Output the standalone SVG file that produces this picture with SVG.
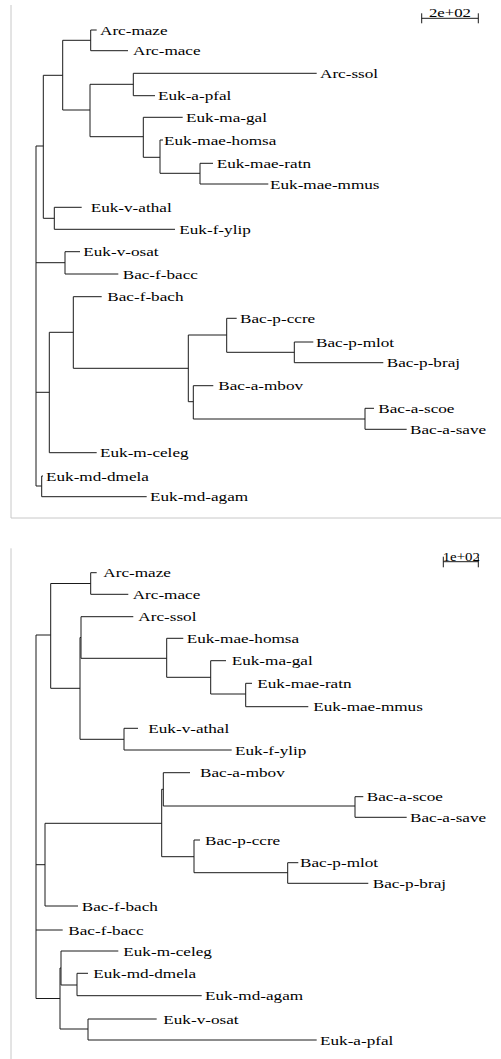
<svg xmlns="http://www.w3.org/2000/svg" width="501" height="1059" viewBox="0 0 501 1059">
<style>
.lbl{font-family:"Liberation Serif","Times New Roman",serif;font-size:13.3px;fill:#000}
.br{fill:none;stroke:#1a1a1a;stroke-width:1}
.frame{fill:none;stroke:#c8c8c8;stroke-width:1}
</style>
<rect width="501" height="1059" fill="#fff"/>
<g id="frames">
<path class="frame" d="M11,5 V518 H501"/>
<path class="frame" d="M11,548.3 V1059"/>
</g>
<g id="connectors">
<path class="br" d="M90.7,30 V50.7 M90.7,30 H96.7 M90.7,50.7 H128 M62.7,40.3 H90.7 M62.7,40.3 V110 M62.7,110 H90 M90,84.3 V136.7 M90,84.3 H133.3 M133.3,73.3 V95.7 M133.3,73.3 H316.7 M133.3,95.7 H155 M90,136.7 H143.3 M143.3,117.3 V157.3 M143.3,117.3 H182.7 M143.3,157.3 H160 M160,140 V173.3 M160,140 H163 M160,173.3 H200 M200,163.3 V184 M200,163.3 H213 M200,184 H268.3 M43.3,75.3 H62.7 M43.3,75.3 V218.3 M43.3,218.3 H54.3 M54.3,207.3 V229.3 M54.3,207.3 H81.7 M54.3,229.3 H175 M36,146 H43.3 M36,262.7 H65 M65,251.7 V274 M65,251.7 H80 M65,274 H118.3 M73.3,296.7 V368.3 M73.3,296.7 H101.7 M49.3,332.3 H73.3 M73.3,368.3 H188.3 M188.3,335 V401.7 M188.3,335 H226.7 M226.7,318.3 V352.3 M226.7,318.3 H236.7 M226.7,352.3 H294.3 M294.3,342 V362.7 M294.3,342 H313.3 M294.3,362.7 H383.3 M188.3,401.7 H193.3 M193.3,385.7 V419 M193.3,385.7 H213.3 M193.3,419 H365 M365,408.3 V429.3 M365,408.3 H374 M365,429.3 H406.7 M49.3,332.3 V452.7 M36,392.3 H49.3 M49.3,452.7 H96.7 M36,146 V486 M36,486 H41.7 M41.7,476 V496.7 M41.7,476 H43 M41.7,496.7 H146.7"/>
<path class="br" d="M90.7,572.7 H96.7 M90.7,572.7 V594.3 M90.7,594.3 H128.3 M50.7,583.5 H90.7 M50.7,583.5 V688.3 M50.7,688.3 H80 M80,637.5 V739.3 M80,637.5 H81 M81,616.7 V658.3 M81,616.7 H133.3 M81,658.3 H166.7 M166.7,638.3 V677.3 M166.7,638.3 H183.3 M166.7,677.3 H210.7 M210.7,660.7 V694 M210.7,660.7 H226 M210.7,694 H245.7 M245.7,683.3 V706.7 M245.7,683.3 H252 M245.7,706.7 H308.3 M80,739.3 H124 M124,728.3 V750 M124,728.3 H138 M124,750 H231.7 M36,635 H50.7 M45,823.3 H161.7 M161.7,789.3 V856.7 M161.7,789.3 H163.3 M163.3,772.7 V806 M163.3,772.7 H190 M163.3,806 H355 M355,796.7 V817.3 M355,796.7 H363.3 M355,817.3 H406.7 M161.7,856.7 H194 M194,840 V872.7 M194,840 H200 M194,872.7 H287.7 M287.7,862.7 V883.3 M287.7,862.7 H298.3 M287.7,883.3 H368.3 M45,823.3 V906 M36,864.7 H45 M45,906 H78 M36,930 H62.7 M36,998.5 H60 M60,968 V1029 M60,968 H61 M61,951 V985 M61,951 H118.3 M61,985 H77 M77,973.3 V995.7 M77,973.3 H88 M77,995.7 H201.7 M60,1029 H88 M88,1019 V1040 M88,1019 H156.7 M88,1040 H316.7 M36,635 V998.5"/>
</g>
<g id="scale-top">
<path class="br" d="M421.7,18.3 H478.3 M421.7,13.3 V23.3 M478.3,13.3 V23.3"/>
<text class="lbl" text-anchor="middle" transform="translate(450,16.5) scale(1.26,1)">2e+02</text>
</g>
<g id="scale-bottom">
<path class="br" d="M443.3,561.7 H478.3 M443.3,556.7 V567.3 M478.3,556.7 V567.3"/>
<text class="lbl" text-anchor="middle" transform="translate(461.3,560.7) scale(1.12,1)">1e+02</text>
</g>
<g id="tree-top">
<g id="t-arc-maze"><text class="lbl" transform="translate(100,34.5) scale(1.29,1)">Arc-maze</text></g>
<g id="t-arc-mace"><text class="lbl" transform="translate(133,55.2) scale(1.29,1)">Arc-mace</text></g>
<g id="t-arc-ssol"><text class="lbl" transform="translate(320,77.8) scale(1.29,1)">Arc-ssol</text></g>
<g id="t-euk-a-pfal"><text class="lbl" transform="translate(158,100.2) scale(1.29,1)">Euk-a-pfal</text></g>
<g id="t-euk-ma-gal"><text class="lbl" transform="translate(186,121.8) scale(1.29,1)">Euk-ma-gal</text></g>
<g id="t-euk-mae-homsa"><text class="lbl" transform="translate(164,144.5) scale(1.29,1)">Euk-mae-homsa</text></g>
<g id="t-euk-mae-ratn"><text class="lbl" transform="translate(216.7,167.8) scale(1.29,1)">Euk-mae-ratn</text></g>
<g id="t-euk-mae-mmus"><text class="lbl" transform="translate(270,188.5) scale(1.29,1)">Euk-mae-mmus</text></g>
<g id="t-euk-v-athal"><text class="lbl" transform="translate(90.7,211.8) scale(1.29,1)">Euk-v-athal</text></g>
<g id="t-euk-f-ylip"><text class="lbl" transform="translate(179.3,233.8) scale(1.29,1)">Euk-f-ylip</text></g>
<g id="t-euk-v-osat"><text class="lbl" transform="translate(83.3,256.2) scale(1.29,1)">Euk-v-osat</text></g>
<g id="t-bac-f-bacc"><text class="lbl" transform="translate(122.7,278.5) scale(1.29,1)">Bac-f-bacc</text></g>
<g id="t-bac-f-bach"><text class="lbl" transform="translate(107.3,301.2) scale(1.29,1)">Bac-f-bach</text></g>
<g id="t-bac-p-ccre"><text class="lbl" transform="translate(240,322.8) scale(1.29,1)">Bac-p-ccre</text></g>
<g id="t-bac-p-mlot"><text class="lbl" transform="translate(316,346.5) scale(1.29,1)">Bac-p-mlot</text></g>
<g id="t-bac-p-braj"><text class="lbl" transform="translate(386.7,367.2) scale(1.29,1)">Bac-p-braj</text></g>
<g id="t-bac-a-mbov"><text class="lbl" transform="translate(218.3,390.2) scale(1.29,1)">Bac-a-mbov</text></g>
<g id="t-bac-a-scoe"><text class="lbl" transform="translate(378.3,412.8) scale(1.29,1)">Bac-a-scoe</text></g>
<g id="t-bac-a-save"><text class="lbl" transform="translate(410,433.8) scale(1.29,1)">Bac-a-save</text></g>
<g id="t-euk-m-celeg"><text class="lbl" transform="translate(100,457.2) scale(1.29,1)">Euk-m-celeg</text></g>
<g id="t-euk-md-dmela"><text class="lbl" transform="translate(46,480.5) scale(1.29,1)">Euk-md-dmela</text></g>
<g id="t-euk-md-agam"><text class="lbl" transform="translate(150,501.2) scale(1.29,1)">Euk-md-agam</text></g>
</g>
<g id="tree-bottom">
<g id="b-arc-maze"><text class="lbl" transform="translate(103.3,577.2) scale(1.29,1)">Arc-maze</text></g>
<g id="b-arc-mace"><text class="lbl" transform="translate(132.7,598.8) scale(1.29,1)">Arc-mace</text></g>
<g id="b-arc-ssol"><text class="lbl" transform="translate(138.3,621.2) scale(1.29,1)">Arc-ssol</text></g>
<g id="b-euk-mae-homsa"><text class="lbl" transform="translate(186.7,642.8) scale(1.29,1)">Euk-mae-homsa</text></g>
<g id="b-euk-ma-gal"><text class="lbl" transform="translate(231.7,665.2) scale(1.29,1)">Euk-ma-gal</text></g>
<g id="b-euk-mae-ratn"><text class="lbl" transform="translate(257.3,687.8) scale(1.29,1)">Euk-mae-ratn</text></g>
<g id="b-euk-mae-mmus"><text class="lbl" transform="translate(313.3,711.2) scale(1.29,1)">Euk-mae-mmus</text></g>
<g id="b-euk-v-athal"><text class="lbl" transform="translate(148.3,732.8) scale(1.29,1)">Euk-v-athal</text></g>
<g id="b-euk-f-ylip"><text class="lbl" transform="translate(235,754.5) scale(1.29,1)">Euk-f-ylip</text></g>
<g id="b-bac-a-mbov"><text class="lbl" transform="translate(200,777.2) scale(1.29,1)">Bac-a-mbov</text></g>
<g id="b-bac-a-scoe"><text class="lbl" transform="translate(366.7,801.2) scale(1.29,1)">Bac-a-scoe</text></g>
<g id="b-bac-a-save"><text class="lbl" transform="translate(410,821.8) scale(1.29,1)">Bac-a-save</text></g>
<g id="b-bac-p-ccre"><text class="lbl" transform="translate(205,844.5) scale(1.29,1)">Bac-p-ccre</text></g>
<g id="b-bac-p-mlot"><text class="lbl" transform="translate(300,867.2) scale(1.29,1)">Bac-p-mlot</text></g>
<g id="b-bac-p-braj"><text class="lbl" transform="translate(372.7,887.8) scale(1.29,1)">Bac-p-braj</text></g>
<g id="b-bac-f-bach"><text class="lbl" transform="translate(81.7,910.5) scale(1.29,1)">Bac-f-bach</text></g>
<g id="b-bac-f-bacc"><text class="lbl" transform="translate(68.3,934.5) scale(1.29,1)">Bac-f-bacc</text></g>
<g id="b-euk-m-celeg"><text class="lbl" transform="translate(123.3,955.5) scale(1.29,1)">Euk-m-celeg</text></g>
<g id="b-euk-md-dmela"><text class="lbl" transform="translate(93.3,977.8) scale(1.29,1)">Euk-md-dmela</text></g>
<g id="b-euk-md-agam"><text class="lbl" transform="translate(205,1000.2) scale(1.29,1)">Euk-md-agam</text></g>
<g id="b-euk-v-osat"><text class="lbl" transform="translate(163.3,1023.5) scale(1.29,1)">Euk-v-osat</text></g>
<g id="b-euk-a-pfal"><text class="lbl" transform="translate(320,1044.5) scale(1.29,1)">Euk-a-pfal</text></g>
</g>
</svg>
